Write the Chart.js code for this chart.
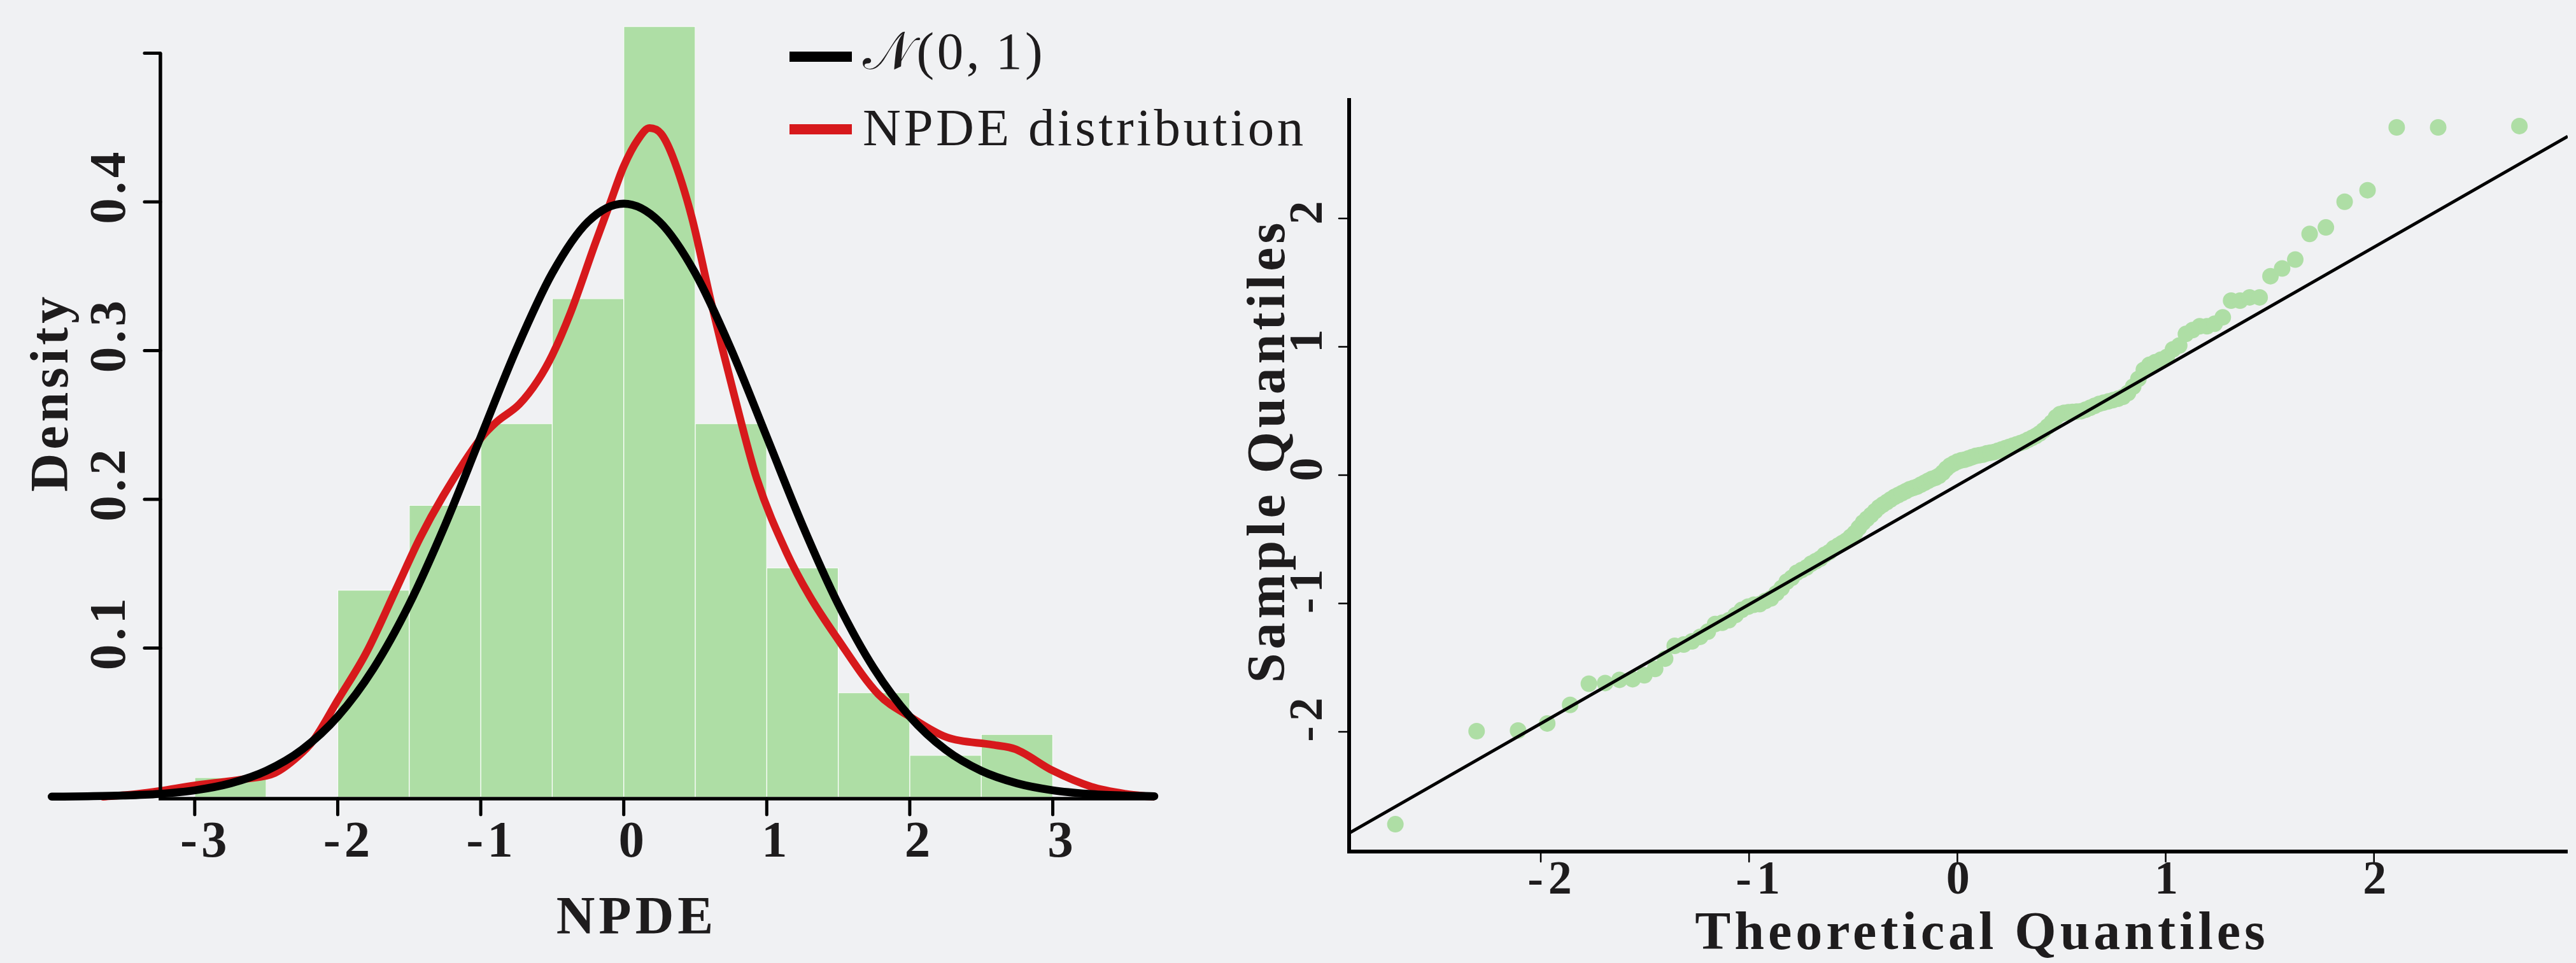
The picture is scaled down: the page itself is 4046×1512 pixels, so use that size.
<!DOCTYPE html>
<html>
<head>
<meta charset="utf-8">
<script src="https://cdn.jsdelivr.net/npm/chart.js@4.4.1/dist/chart.umd.min.js"></script>
<style>
  html, body { margin: 0; padding: 0; background: #f0f1f3; }
  #wrap { position: relative; width: 4046px; height: 1512px; overflow: hidden; }
  canvas { position: absolute; top: 0; }
  #histChart { left: 0; }
  #qqChart { left: 1880px; }
</style>
</head>
<body>
<div id="wrap">
  <canvas id="histChart" width="2100" height="1512"></canvas>
  <canvas id="qqChart" width="2166" height="1512"></canvas>
</div>
<script>
// ---- left panel: histogram of NPDE with densities ----
const binCenters = [-2.75, -2.25, -1.75, -1.25, -0.75, -0.25, 0.25, 0.75, 1.25, 1.75, 2.25, 2.75];
const binDensity = [0.013, 0, 0.139, 0.196, 0.251, 0.335, 0.518, 0.251, 0.154, 0.070, 0.028, 0.042];

// red curve
const kdeX = [-3.64, -3.4, -3.24, -3.0, -2.8, -2.65, -2.44, -2.28, -2.17, -2.0, -1.8, -1.585, -1.425, -1.265,
  -1.0, -0.89, -0.73, -0.6, -0.5, -0.37, -0.2, -0.1, 0.0, 0.1, 0.18, 0.26, 0.34, 0.475, 0.61, 0.77, 0.93,
  1.14, 1.3, 1.49, 1.78, 2.0, 2.26, 2.58, 2.74, 3.0, 3.27, 3.51, 3.70];
const kdeY = [0.000, 0.002, 0.004, 0.0077, 0.010, 0.012, 0.016, 0.027, 0.038, 0.065, 0.097, 0.141, 0.174, 0.202,
  0.241, 0.252, 0.264, 0.280, 0.297, 0.326, 0.372, 0.398, 0.424, 0.442, 0.4497, 0.446, 0.431, 0.39, 0.333, 0.271, 0.214,
  0.164, 0.135, 0.107, 0.069, 0.054, 0.040, 0.035, 0.032, 0.0176, 0.0068, 0.002, 0.000];

// black curve
const normX = [-4.0, -3.75, -3.5, -3.25, -3.0, -2.75, -2.5, -2.25, -2.0, -1.75, -1.5, -1.25, -1.0, -0.75, -0.5, -0.25,
  0, 0.25, 0.5, 0.75, 1.0, 1.25, 1.5, 1.75, 2.0, 2.25, 2.5, 2.75, 3.0, 3.25, 3.5, 3.71];
const normY = [0.0001, 0.0004, 0.0009, 0.002, 0.0044, 0.0091, 0.0175, 0.0317, 0.054, 0.0863, 0.1295, 0.1826, 0.242, 0.3011, 0.3521, 0.3867,
  0.3989, 0.3867, 0.3521, 0.3011, 0.242, 0.1826, 0.1295, 0.0863, 0.054, 0.0317, 0.0175, 0.0091, 0.0044, 0.002, 0.0009, 0.0004];

const npdeTicks = [-3, -2, -1, 0, 1, 2, 3];
const npdeTickLabels = ['-3', '-2', '-1', '0', '1', '2', '3'];
const densityTicks = [0.1, 0.2, 0.3, 0.4, 0.5];
const densityTickLabels = ['0.1', '0.2', '0.3', '0.4', ''];
const legendLabels = ['\u{1D4A9}(0,\u20091)', 'NPDE distribution'];

// ---- right panel: QQ plot ----
const theoQ = [
  -2.698, -2.308, -2.109, -1.969, -1.859, -1.769, -1.691, -1.622, -1.559, -1.503,
  -1.451, -1.403, -1.357, -1.314, -1.274, -1.235, -1.198, -1.163, -1.129, -1.097,
  -1.065, -1.035, -1.005, -0.977, -0.949, -0.922, -0.895, -0.869, -0.844, -0.819,
  -0.795, -0.771, -0.748, -0.725, -0.702, -0.680, -0.658, -0.637, -0.615, -0.594,
  -0.573, -0.553, -0.533, -0.512, -0.492, -0.473, -0.453, -0.434, -0.414, -0.395,
  -0.376, -0.358, -0.339, -0.321, -0.302, -0.284, -0.266, -0.248, -0.230, -0.212,
  -0.194, -0.176, -0.158, -0.141, -0.123, -0.105, -0.088, -0.070, -0.053, -0.035,
  -0.018, 0, 0.018, 0.035, 0.053, 0.070, 0.088, 0.105, 0.123, 0.141,
  0.158, 0.176, 0.194, 0.212, 0.230, 0.248, 0.266, 0.284, 0.302, 0.321,
  0.339, 0.358, 0.376, 0.395, 0.414, 0.434, 0.453, 0.473, 0.492, 0.512,
  0.533, 0.553, 0.573, 0.594, 0.615, 0.637, 0.658, 0.680, 0.702, 0.725,
  0.748, 0.771, 0.795, 0.819, 0.844, 0.869, 0.895, 0.922, 0.949, 0.977,
  1.005, 1.035, 1.065, 1.097, 1.129, 1.163, 1.198, 1.235, 1.274, 1.314,
  1.357, 1.403, 1.451, 1.503, 1.559, 1.622, 1.691, 1.769, 1.859, 1.969,
  2.109, 2.308, 2.698];
const sampleQ = [
  -2.72, -1.995, -1.99, -1.935, -1.79, -1.625, -1.62, -1.595, -1.59, -1.56,
  -1.51, -1.43, -1.33, -1.32, -1.295, -1.26, -1.22, -1.16, -1.15, -1.13,
  -1.09, -1.05, -1.025, -1.01, -1.005, -0.98, -0.96, -0.92, -0.88, -0.83,
  -0.80, -0.76, -0.74, -0.72, -0.69, -0.67, -0.65, -0.62, -0.60, -0.57,
  -0.55, -0.53, -0.51, -0.48, -0.45, -0.41, -0.37, -0.34, -0.31, -0.28,
  -0.25, -0.23, -0.21, -0.19, -0.17, -0.155, -0.14, -0.125, -0.11, -0.10,
  -0.09, -0.075, -0.06, -0.045, -0.03, -0.02, -0.005, 0.02, 0.05, 0.075,
  0.09, 0.105, 0.115, 0.12, 0.13, 0.14, 0.15, 0.155, 0.16, 0.17,
  0.175, 0.18, 0.19, 0.20, 0.21, 0.22, 0.23, 0.24, 0.25, 0.26,
  0.275, 0.29, 0.305, 0.325, 0.35, 0.38, 0.41, 0.45, 0.475, 0.485,
  0.49, 0.492, 0.495, 0.498, 0.51, 0.525, 0.54, 0.555, 0.565, 0.575,
  0.585, 0.595, 0.61, 0.64, 0.69, 0.75, 0.82, 0.86, 0.88, 0.90,
  0.92, 0.98, 1.01, 1.10, 1.13, 1.16, 1.16, 1.18, 1.23, 1.36,
  1.36, 1.385, 1.385, 1.55, 1.61, 1.68, 1.88, 1.93, 2.13, 2.22,
  2.71, 2.71, 2.72];
const qqLineX = [-2.92, 2.93];
const qqLineY = [-2.79, 2.64];
const qqTicks = [-2, -1, 0, 1, 2];
const qqTickLabels = ['-2', '-1', '0', '1', '2'];

const GREEN = '#aedea5';
const RED = '#d7191c';
const INK = '#1e1c1d';
const serif = (w, s) => `${w} ${s}px "Liberation Serif", "DejaVu Serif", serif`;

function putText(ctx, s, x, y, o) {
  ctx.save();
  ctx.translate(x, y);
  if (o.rotate) ctx.rotate(-Math.PI / 2);
  ctx.font = o.font;
  ctx.fillStyle = INK;
  ctx.textAlign = o.align || 'center';
  ctx.textBaseline = 'alphabetic';
  if ('letterSpacing' in ctx) ctx.letterSpacing = (o.spacing || 0) + 'px';
  ctx.fillText(s, o.align === 'left' ? 0 : (o.spacing || 0) / 2, 0);
  ctx.restore();
}

// axes drawn by hand (trimmed spines, rotated y labels), positioned through the chart scales
const spines = {
  id: 'spines',
  afterDatasetsDraw(chart, args, o) {
    const { ctx, scales: { x, y } } = chart;
    const xa = o.xAxis, ya = o.yAxis;
    const axisY = y.getPixelForValue(xa.at) + (xa.shift || 0);
    const axisX = x.getPixelForValue(ya.at);
    ctx.save();
    ctx.strokeStyle = '#000';
    ctx.lineCap = 'butt';
    ctx.lineWidth = o.spineWidth;
    ctx.beginPath();
    ctx.moveTo(axisX - o.spineWidth / 2, axisY);
    ctx.lineTo(x.getPixelForValue(xa.to), axisY);
    ctx.moveTo(axisX, axisY);
    ctx.lineTo(axisX, y.getPixelForValue(ya.to));
    ctx.stroke();

    ctx.lineWidth = o.tickWidth;
    ctx.lineCap = 'round';
    ctx.beginPath();
    xa.ticks.forEach(v => {
      const px = x.getPixelForValue(v);
      ctx.moveTo(px, axisY);
      ctx.lineTo(px, axisY + o.tickLen);
    });
    ya.ticks.forEach(v => {
      const py = y.getPixelForValue(v);
      ctx.moveTo(axisX, py);
      ctx.lineTo(axisX - o.tickLen, py);
    });
    ctx.stroke();
    ctx.restore();

    xa.ticks.forEach((v, i) => {
      const s = xa.labels[i];
      const dx = s.startsWith('-') ? xa.negDx : xa.dx;
      putText(ctx, s, x.getPixelForValue(v) + dx, axisY + xa.gap, { font: o.tickFont, spacing: o.tickSpacing });
    });
    ya.ticks.forEach((v, i) => {
      const s = ya.labels[i];
      if (!s) return;
      const dy = s.startsWith('-') ? ya.negDy : ya.dy;
      putText(ctx, s, axisX - ya.gap, y.getPixelForValue(v) + dy, { font: o.tickFont, spacing: o.tickSpacing, rotate: true });
    });

    const t = o.titles;
    putText(ctx, t.x.text, t.x.px, t.x.py, { font: t.font, spacing: t.spacing });
    putText(ctx, t.y.text, t.y.px, t.y.py, { font: t.font, spacing: t.spacing, rotate: true });
  }
};

const lineLegend = {
  id: 'lineLegend',
  afterDraw(chart, args, o) {
    const ctx = chart.ctx;
    o.rows.forEach(r => {
      ctx.save();
      ctx.strokeStyle = r.color;
      ctx.lineWidth = o.lineWidth;
      ctx.lineCap = 'butt';
      ctx.beginPath();
      ctx.moveTo(o.x0, r.y);
      ctx.lineTo(o.x1, r.y);
      ctx.stroke();
      ctx.restore();
      putText(ctx, r.text, o.textX, r.base, { font: o.font, spacing: o.spacing, align: 'left' });
    });
  }
};

const fixedTicks = (vals) => (scale) => { scale.ticks = vals.map(v => ({ value: v })); };

new Chart(document.getElementById('histChart'), {
  type: 'line',
  data: {
    datasets: [
      {
        type: 'bar',
        data: binCenters.map((c, i) => ({ x: c, y: binDensity[i] })),
        backgroundColor: GREEN,
        borderColor: '#ffffff',
        borderWidth: 1,
        barPercentage: 1,
        categoryPercentage: 1,
        order: 3
      },
      {
        data: kdeX.map((v, i) => ({ x: v, y: kdeY[i] })),
        borderColor: RED,
        borderWidth: 12,
        borderCapStyle: 'round',
        pointRadius: 0,
        cubicInterpolationMode: 'monotone',
        fill: false,
        clip: false,
        order: 2
      },
      {
        data: normX.map((v, i) => ({ x: v, y: normY[i] })),
        borderColor: '#000000',
        borderWidth: 12.5,
        borderCapStyle: 'round',
        pointRadius: 0,
        cubicInterpolationMode: 'monotone',
        fill: false,
        clip: false,
        order: 1
      }
    ]
  },
  options: {
    responsive: false,
    devicePixelRatio: 1,
    animation: false,
    events: [],
    layout: { padding: { left: 70, right: 278, top: 13.5, bottom: 167.5 } },
    scales: {
      x: { type: 'linear', display: false, min: -4.05, max: 3.75, offset: false, afterBuildTicks: fixedTicks(npdeTicks) },
      y: { type: 'linear', display: false, min: -0.04, max: 0.53, afterBuildTicks: fixedTicks(densityTicks) }
    },
    plugins: {
      legend: { display: false },
      tooltip: { enabled: false },
      spines: {
        spineWidth: 5.5,
        tickWidth: 5,
        tickLen: 25,
        tickFont: serif('bold', 81),
        tickSpacing: 6,
        xAxis: { at: 0, shift: 3, to: 3.71, ticks: npdeTicks, labels: npdeTickLabels, gap: 91, dx: 12, negDx: 14 },
        yAxis: { at: -3.24, to: 0.5, ticks: densityTicks, labels: densityTickLabels, gap: 56, dy: -22, negDy: -22 },
        titles: {
          font: serif('bold', 84),
          spacing: 6,
          x: { text: 'NPDE', px: 997, py: 1466 },
          y: { text: 'Density', px: 106, py: 619 }
        }
      },
      lineLegend: {
        x0: 1240, x1: 1338, textX: 1355, lineWidth: 16,
        font: serif('normal', 83), spacing: 4.5,
        rows: [
          { text: legendLabels[0], color: '#000000', y: 89, base: 108 },
          { text: legendLabels[1], color: RED, y: 203, base: 228 }
        ]
      }
    }
  },
  plugins: [spines, lineLegend]
});

new Chart(document.getElementById('qqChart'), {
  type: 'line',
  data: {
    datasets: [
      {
        data: theoQ.map((v, i) => ({ x: v, y: sampleQ[i] })),
        showLine: false,
        pointRadius: 13,
        pointBorderWidth: 0,
        pointBackgroundColor: GREEN,
        pointBorderColor: GREEN,
        order: 2
      },
      {
        data: qqLineX.map((v, i) => ({ x: v, y: qqLineY[i] })),
        borderColor: '#000000',
        borderWidth: 5,
        pointRadius: 0,
        fill: false,
        order: 1
      }
    ]
  },
  options: {
    responsive: false,
    devicePixelRatio: 1,
    animation: false,
    events: [],
    layout: { padding: { left: 239, right: 2, top: 154, bottom: 175 } },
    scales: {
      x: { type: 'linear', display: false, min: -2.92, max: 2.93, offset: false, afterBuildTicks: fixedTicks(qqTicks) },
      y: { type: 'linear', display: false, min: -2.933, max: 2.938, afterBuildTicks: fixedTicks(qqTicks) }
    },
    plugins: {
      legend: { display: false },
      tooltip: { enabled: false },
      spines: {
        spineWidth: 6,
        tickWidth: 2.5,
        tickLen: 16,
        tickFont: serif('bold', 74),
        tickSpacing: 8,
        xAxis: { at: -2.933, shift: 0, to: 2.93, ticks: qqTicks, labels: qqTickLabels, gap: 66, dx: 1, negDx: 14 },
        yAxis: { at: -2.92, to: 2.938, ticks: qqTicks, labels: qqTickLabels, gap: 43, dy: -9, negDy: -19 },
        titles: {
          font: serif('bold', 84),
          spacing: 6,
          x: { text: 'Theoretical Quantiles', px: 1230, py: 1490 },
          y: { text: 'Sample Quantiles', px: 137, py: 711 }
        }
      }
    }
  },
  plugins: [spines]
});
</script>
</body>
</html>
